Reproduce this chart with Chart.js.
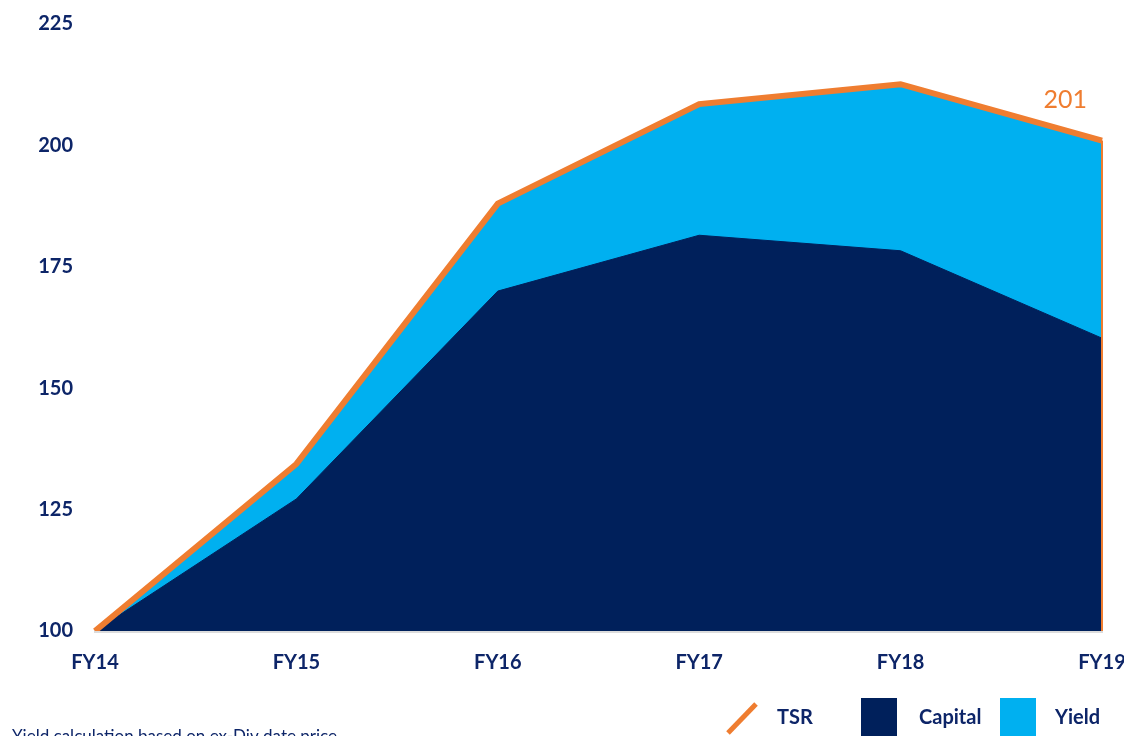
<!DOCTYPE html>
<html lang="en">
<head>
    <meta charset="UTF-8">
    <title>TSR</title>
    <script src="https://cdn.jsdelivr.net/npm/chart.js"></script>
    <style>
        html, body { margin: 0; padding: 0; background: #fff; overflow: hidden; }
        canvas { display: block; }
    </style>
</head>
<body>
    <canvas id="tsrChart" width="1124" height="736"></canvas>

    <script>
        const years = ['FY14', 'FY15', 'FY16', 'FY17', 'FY18', 'FY19'];
        const capital = [100, 127.2, 170, 181.5, 178.3, 160.3];
        const yieldPart = [0, 7.2, 18, 27, 34.3, 40.7];
        const tsr = [100, 134.4, 188, 208.5, 212.6, 201];
        const yTicks = [100, 125, 150, 175, 200, 225];

        const NAVY = '#00205b';
        const CYAN = '#00b0f0';
        const ORANGE = '#ef7d30';
        const TEXT = '#0d2568';
        const FONT = 'Lato, "Open Sans", sans-serif';

        // end label, right edge line and the legend at the bottom
        const extras = {
            id: 'extras',
            afterDatasetsDraw(chart) {
                const ctx = chart.ctx;
                const xs = chart.scales.x, ys = chart.scales.y;
                const last = tsr.length - 1;
                const px = xs.getPixelForValue(last);
                const py = ys.getPixelForValue(tsr[last]);
                ctx.save();
                ctx.strokeStyle = ORANGE;
                ctx.lineWidth = 2;
                ctx.beginPath();
                ctx.moveTo(px, py);
                ctx.lineTo(px, ys.getPixelForValue(100));
                ctx.stroke();

                ctx.fillStyle = ORANGE;
                ctx.font = '400 25px ' + FONT;
                ctx.textAlign = 'right';
                ctx.textBaseline = 'alphabetic';
                ctx.fillText(String(tsr[last]), px - 15, py - 33);
                ctx.restore();
            },
            afterDraw(chart) {
                const ctx = chart.ctx;
                ctx.save();
                ctx.strokeStyle = ORANGE;
                ctx.lineWidth = 5;
                ctx.beginPath();
                ctx.moveTo(728, 733);
                ctx.lineTo(756, 704);
                ctx.stroke();

                ctx.fillStyle = NAVY;
                ctx.fillRect(861, 698, 36, 40);
                ctx.fillStyle = CYAN;
                ctx.fillRect(1000, 698, 36, 40);

                ctx.fillStyle = TEXT;
                ctx.font = 'bold 20px ' + FONT;
                ctx.textBaseline = 'middle';
                ctx.textAlign = 'left';
                ctx.fillText('TSR', 777, 718);
                ctx.fillText('Capital', 919, 718);
                ctx.fillText('Yield', 1055, 718);

                ctx.font = '400 17px ' + FONT;
                ctx.textBaseline = 'alphabetic';
                ctx.fillText('Yield calculation based on ex-Div date price', 12, 742);
                ctx.restore();
            }
        };

        new Chart(document.getElementById('tsrChart'), {
            type: 'line',
            data: {
                labels: years,
                datasets: [
                    {
                        label: 'Capital',
                        data: capital,
                        stack: 'parts',
                        backgroundColor: NAVY,
                        borderColor: NAVY,
                        borderWidth: 1,
                        pointRadius: 0,
                        fill: 'origin',
                        order: 2
                    },
                    {
                        // stacked on capital, so its top is capital + yield
                        label: 'Yield',
                        data: yieldPart,
                        stack: 'parts',
                        backgroundColor: CYAN,
                        borderColor: CYAN,
                        borderWidth: 1,
                        pointRadius: 0,
                        fill: 'origin',
                        order: 3
                    },
                    {
                        label: 'TSR',
                        data: tsr,
                        stack: 'total',
                        borderColor: ORANGE,
                        borderWidth: 6,
                        pointRadius: 0,
                        fill: false,
                        order: 1
                    }
                ]
            },
            options: {
                responsive: false,
                animation: false,
                devicePixelRatio: 1,
                layout: { padding: { top: 24, right: 22, left: 0, bottom: 0 } },
                plugins: {
                    legend: { display: false },
                    tooltip: { enabled: false }
                },
                scales: {
                    x: {
                        offset: false,
                        grid: { display: false, drawTicks: false },
                        border: { display: true, color: '#dcdcdc', width: 3 },
                        ticks: {
                            color: TEXT,
                            padding: 20,
                            maxRotation: 0,
                            font: { family: FONT, size: 20, weight: 'bold' }
                        },
                        afterFit(scale) {
                            scale.height = 105;
                            scale.paddingLeft = 0;
                            scale.paddingRight = 0;
                        }
                    },
                    y: {
                        stacked: true,
                        min: 100,
                        max: 225,
                        grid: { display: false, drawTicks: false },
                        border: { display: false },
                        afterBuildTicks(scale) { scale.ticks = yTicks.map(v => ({ value: v })); },
                        ticks: {
                            color: TEXT,
                            padding: 22,
                            font: { family: FONT, size: 20, weight: 'bold' }
                        },
                        afterFit(scale) {
                            scale.width = 95;
                            scale.paddingTop = 0;
                            scale.paddingBottom = 0;
                        }
                    }
                }
            },
            plugins: [extras]
        });
    </script>
</body>
</html>
